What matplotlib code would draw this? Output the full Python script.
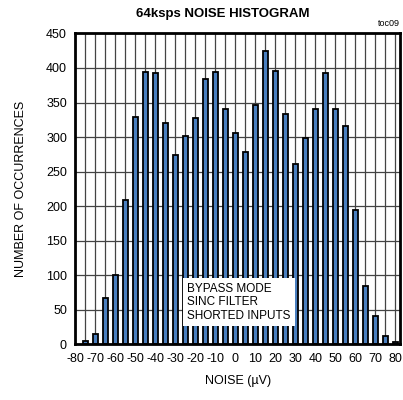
import matplotlib.pyplot as plt
import numpy as np

plt.rcParams['font.family'] = ['Liberation Sans', 'DejaVu Sans']
plt.rcParams['axes.unicode_minus'] = False

# histogram bins (uV) and counts
noise_uv = [-75, -70, -65, -60, -55, -50, -45, -40, -35, -30, -25, -20, -15, -10, -5, 0,
            5, 10, 15, 20, 25, 30, 35, 40, 45, 50, 55, 60, 65, 70, 75, 80]
counts = [5, 15, 67, 100, 209, 329, 394, 393, 320, 274, 301, 328, 384, 394, 340, 306,
          278, 347, 424, 396, 333, 261, 298, 341, 393, 341, 316, 195, 84, 41, 12, 3]
x_ticks = list(range(-80, 81, 10))
y_ticks = list(range(0, 451, 50))

fig = plt.figure(figsize=(4.03, 4.0), dpi=100)
ax = fig.add_axes([0.1869, 0.1388, 0.8057, 0.7777])

ax.bar(noise_uv, counts, width=2.2, color='#4a7fbf', edgecolor='black',
       linewidth=1.3, zorder=3)

ax.set_xlim(-80, 82.3)
ax.set_ylim(0, 450)
ax.set_xticks(x_ticks)
ax.set_xticks(np.arange(-75, 82, 5), minor=True)
ax.set_yticks(y_ticks)
ax.tick_params(axis='both', which='both', length=0, labelsize=9, pad=6)
ax.tick_params(axis='x', pad=6)

# grid on every 5 uV and every 50 counts
ax.grid(True, which='both', axis='x', color='#444444', linewidth=0.9, zorder=0)
ax.grid(True, which='major', axis='y', color='#444444', linewidth=0.9, zorder=0)
for s in ax.spines.values():
    s.set_linewidth(2)
    s.set_zorder(4)

ax.set_xlabel('NOISE (µV)', fontsize=9, labelpad=7)
ax.set_ylabel('NUMBER OF OCCURRENCES', fontsize=9, labelpad=14)

fig.text(0.553, 0.965, '64ksps NOISE HISTOGRAM', ha='center', va='center',
         fontsize=9.5, fontweight='bold')
fig.text(0.993, 0.93, 'toc09', ha='right', va='bottom', fontsize=6.5)

ax.text(-24, 61, 'BYPASS MODE\nSINC FILTER\nSHORTED INPUTS', ha='left', va='center',
        fontsize=8.5, linespacing=1.2, zorder=5,
        bbox=dict(facecolor='white', edgecolor='none', pad=3))

fig.savefig('out.png', dpi=100)
